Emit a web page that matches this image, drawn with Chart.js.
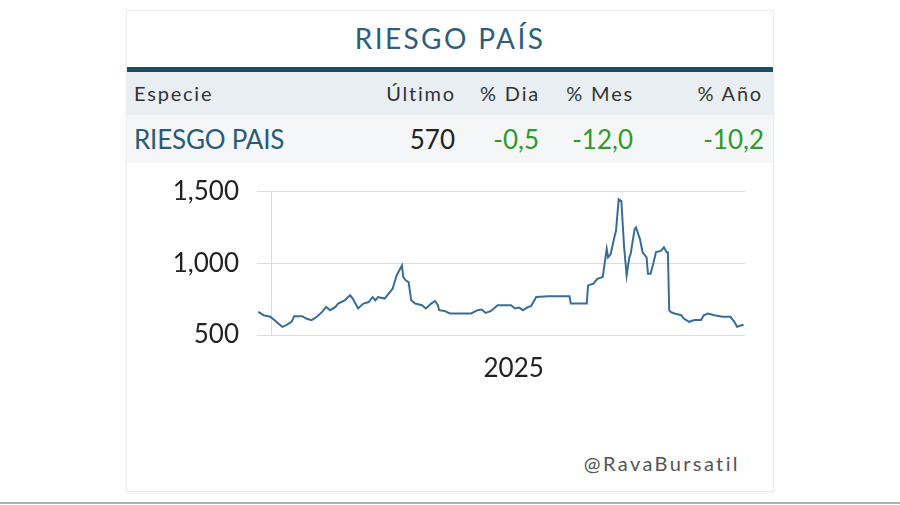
<!DOCTYPE html>
<html>
<head>
<meta charset="utf-8">
<script src="https://cdn.jsdelivr.net/npm/chart.js@4.4.1/dist/chart.umd.min.js"></script>
<style>
    body { margin: 0; background: #fff; font-family: Lato, "Open Sans", sans-serif; }
    .page { position: relative; width: 900px; height: 505px; overflow: hidden; }
    .card {
        position: absolute; left: 126px; top: 10px; width: 648px; height: 482px;
        background: #fff; border: 1px solid #eeeeee; box-sizing: border-box;
        box-shadow: 0 1px 2px rgba(0,0,0,0.05);
    }
    .title {
        position: absolute; left: 0; top: 10px; width: 100%; text-align: center;
        font-size: 28px; letter-spacing: 2.4px; color: #2e5e78;
    }
    .bar { position: absolute; left: 0; top: 56px; width: 100%; height: 5px; background: #1f4d63; }
    .row { position: absolute; left: 0; width: 100%; }
    .head { top: 61px; height: 43px; background: #e9eef3; color: #333; font-size: 20px; letter-spacing: 1.8px; }
    .data { top: 104px; height: 48px; background: #f5f6f7; font-size: 26px; }
    .cell { position: absolute; top: 0; white-space: nowrap; }
    .head .cell { line-height: 43px; }
    .data .cell { line-height: 48px; }
    .name { left: 7px; color: #2b5b78; letter-spacing: -0.2px; }
    .num { color: #222; }
    .green { color: #2f9a2f; }
    .watermark {
        position: absolute; right: 33px; top: 440px; font-size: 20px;
        letter-spacing: 2.4px; color: #555;
    }
    .chartbox { position: absolute; left: 0; top: 147px; width: 648px; height: 242px; }
    .rule { position: absolute; left: 0; top: 502px; width: 900px; height: 2px; background: #b0b0b0; }
</style>
</head>
<body>
<div class="page">
    <div class="card">
        <div class="title">RIESGO PAÍS</div>
        <div class="bar"></div>
        <div class="row head">
            <span class="cell" style="left:7px">Especie</span>
            <span class="cell" style="right:317px">Último</span>
            <span class="cell" style="right:233px">% Dia</span>
            <span class="cell" style="right:139px">% Mes</span>
            <span class="cell" style="right:10px">% Año</span>
        </div>
        <div class="row data">
            <span class="cell name">RIESGO PAIS</span>
            <span class="cell num" style="right:318px">570</span>
            <span class="cell green" style="right:234px">-0,5</span>
            <span class="cell green" style="right:140px">-12,0</span>
            <span class="cell green" style="right:9px">-10,2</span>
        </div>
        <div class="chartbox"><canvas id="riesgoChart"></canvas></div>
        <div class="watermark">@RavaBursatil</div>
    </div>
    <div class="rule"></div>
</div>

<script>
// Days counted from 1 Jan 2025 (negative = late 2024)
const days = [
    -10, -6, -1, 2, 8, 11, 15, 17, 23, 26, 30, 34, 38, 41, 44, 48, 50, 55, 59, 61,
    65, 69, 73, 76, 78, 80, 85, 88, 91, 94, 96, 98, 99, 101, 103, 105, 108, 113, 116, 120,
    123, 125, 126, 130, 134, 150, 155, 158, 161, 165, 170, 180, 183, 186, 189, 193, 195, 199, 208, 224,
    225, 237, 238, 242, 245, 249, 252, 253, 255, 258, 259, 261, 263, 265, 267, 269, 270, 273, 274, 277,
    279, 282, 283, 285, 287, 289, 293, 295, 297, 298, 299, 300, 303, 308, 310, 314, 318, 323, 325, 328,
    333, 339, 345, 348, 350, 354, 355
];
const riesgo = [
    661, 638, 627, 604, 557, 569, 592, 631, 631, 615, 604, 627, 661, 696, 673, 696, 719, 742, 777, 754,
    685, 719, 730, 765, 742, 765, 754, 788, 823, 915, 950, 984, 904, 880, 869, 742, 719, 708, 685, 719,
    737, 708, 673, 668, 650, 650, 673, 678, 654, 668, 708, 708, 685, 692, 673, 696, 700, 765, 770, 770,
    719, 719, 846, 858, 892, 904, 1100, 1042, 1065, 1192, 1227, 1446, 1434, 1123, 915, 1042, 1065, 1238, 1250, 1169,
    1077, 1042, 927, 927, 996, 1077, 1088, 1111, 1077, 1077, 673, 661, 650, 638, 615, 592, 604, 604, 638, 650,
    638, 627, 627, 592, 557, 569, 570
];
const yTicks = [500, 1000, 1500];
const yearLabel = '2025';
const yearStart = 0;
const yearMiddle = 182;

const points = days.map((d, i) => ({ x: d, y: riesgo[i] }));

new Chart(document.getElementById('riesgoChart').getContext('2d'), {
    type: 'line',
    data: {
        datasets: [{
            data: points,
            borderColor: '#3a6d96',
            borderWidth: 2,
            pointRadius: 0,
            tension: 0,
            fill: false
        }]
    },
    options: {
        responsive: true,
        maintainAspectRatio: false,
        animation: false,
        layout: { padding: { top: 17, right: 30, left: 0, bottom: 0 } },
        plugins: { legend: { display: false }, tooltip: { enabled: false } },
        scales: {
            x: {
                type: 'linear',
                min: -11,
                max: 356,
                afterBuildTicks: scale => {
                    scale.ticks = [{ value: yearStart }, { value: yearMiddle }];
                },
                afterFit: scale => { scale.height = 65; },
                border: { display: false },
                grid: {
                    drawTicks: false,
                    color: ctx => (ctx.tick && ctx.tick.value === yearStart) ? '#dcdcdc' : 'rgba(0,0,0,0)'
                },
                ticks: {
                    padding: 18,
                    maxRotation: 0,
                    autoSkip: false,
                    color: '#222',
                    font: { family: 'Lato', size: 26 },
                    callback: v => v === yearMiddle ? yearLabel : ''
                }
            },
            y: {
                min: 500,
                max: 1500,
                afterBuildTicks: scale => {
                    scale.ticks = yTicks.map(v => ({ value: v }));
                },
                afterFit: scale => { scale.width = 130; },
                border: { display: false },
                grid: { drawTicks: false, color: '#dcdcdc' },
                ticks: {
                    padding: 18,
                    color: '#222',
                    font: { family: 'Lato', size: 26 },
                    callback: v => v.toLocaleString('en-US')
                }
            }
        }
    }
});
</script>
</body>
</html>
